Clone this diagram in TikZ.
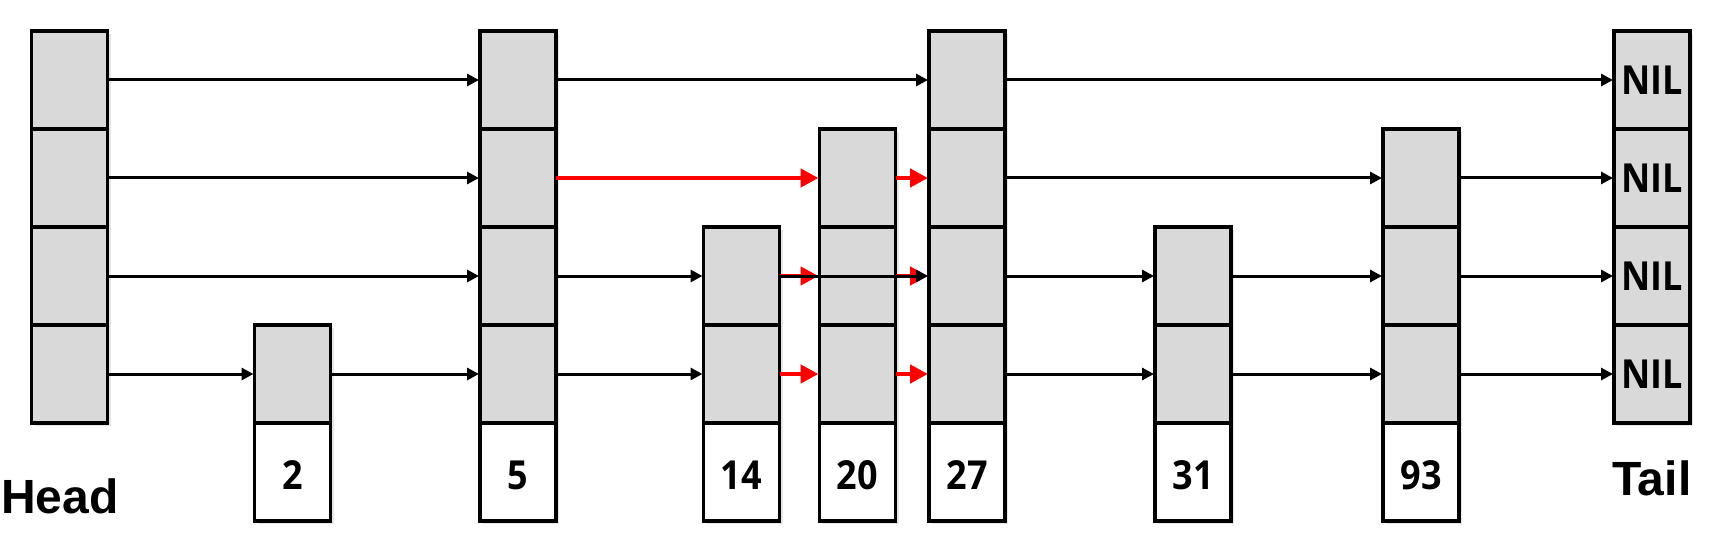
\documentclass[tikz,border=0pt]{standalone}
\usepackage{fontspec}
\usepackage{graphicx}
\setmainfont{Liberation Sans}
\newfontfamily\numfont{Open Sans}[FakeStretch=0.9]
\usetikzlibrary{arrows.meta,shadows}
\definecolor{cellgray}{HTML}{D9D9D9}
\definecolor{ptrred}{HTML}{FF0000}
\tikzset{
  cell/.style={draw=black, line width=3.3pt, fill=cellgray, minimum width=76pt,
    minimum height=98pt, inner sep=0pt, outer sep=0pt,
    drop shadow={shadow xshift=3pt, shadow yshift=-3pt, opacity=0.2},
    font=\numfont\bfseries\fontsize{40}{40}\selectfont},
  numcell/.style={cell, fill=white},
  ptr/.style={draw=black, line width=3pt, shorten >=1pt,
    -{Triangle[length=12pt,width=12pt]}},
  newptr/.style={draw=ptrred, line width=4.5pt, shorten >=1pt,
    -{Triangle[length=18pt,width=18pt]}},
  endlabel/.style={font=\bfseries\fontsize{48}{48}\selectfont, inner sep=0pt, anchor=base west}
}
\newcommand\mkcol[4]{%
  \foreach \l in {#3,...,4} {\node[cell] (#1\l) at (#2, {31+98*(\l-0.5)}) {};}
  \node[numcell] (#1n) at (#2, {31+98*4.5}) {\raisebox{-3pt}[\height][0pt]{#4}};}
\begin{document}
\begin{tikzpicture}[x=1pt, y=-1pt]
\useasboundingbox (0,0) rectangle (1710,556);
% Head
\foreach \l in {1,...,4} {\node[cell] (h\l) at (69.5, {31+98*(\l-0.5)}) {};}
% data nodes
\mkcol{b}{292.5}{4}{2}
\mkcol{c}{518}{1}{5}
\mkcol{d}{741.5}{3}{14}
\mkcol{e}{857.5}{2}{20}
\mkcol{f}{967}{1}{27}
\mkcol{g}{1193}{3}{31}
\mkcol{i}{1421}{2}{93}
% Tail
\foreach \l in {1,...,4} {\node[cell] (t\l) at (1652, {31+98*(\l-0.5)}) {NIL};}
% labels
\node[endlabel] (headlbl) at (1,513) {Head};
\node[endlabel] (taillbl) at (1612,495) {Tail};
% level 1
\draw[ptr] (h1.east) -- (c1.west);
\draw[ptr] (c1.east) -- (f1.west);
\draw[ptr] (f1.east) -- (t1.west);
% level 2
\draw[ptr] (h2.east) -- (c2.west);
\draw[newptr] (c2.east) -- (e2.west);
\draw[newptr] (e2.east) -- (f2.west);
\draw[ptr] (f2.east) -- (i2.west);
\draw[ptr] (i2.east) -- (t2.west);
% level 3
\draw[ptr] (h3.east) -- (c3.west);
\draw[ptr] (c3.east) -- (d3.west);
\draw[newptr] (d3.east) -- (e3.west);
\draw[newptr] (e3.east) -- (f3.west);
\draw[ptr] (d3.east) -- (f3.west);
\draw[ptr] (f3.east) -- (g3.west);
\draw[ptr] (g3.east) -- (i3.west);
\draw[ptr] (i3.east) -- (t3.west);
% level 4
\draw[ptr] (h4.east) -- (b4.west);
\draw[ptr] (b4.east) -- (c4.west);
\draw[ptr] (c4.east) -- (d4.west);
\draw[newptr] (d4.east) -- (e4.west);
\draw[newptr] (e4.east) -- (f4.west);
\draw[ptr] (f4.east) -- (g4.west);
\draw[ptr] (g4.east) -- (i4.west);
\draw[ptr] (i4.east) -- (t4.west);
\end{tikzpicture}
\end{document}
